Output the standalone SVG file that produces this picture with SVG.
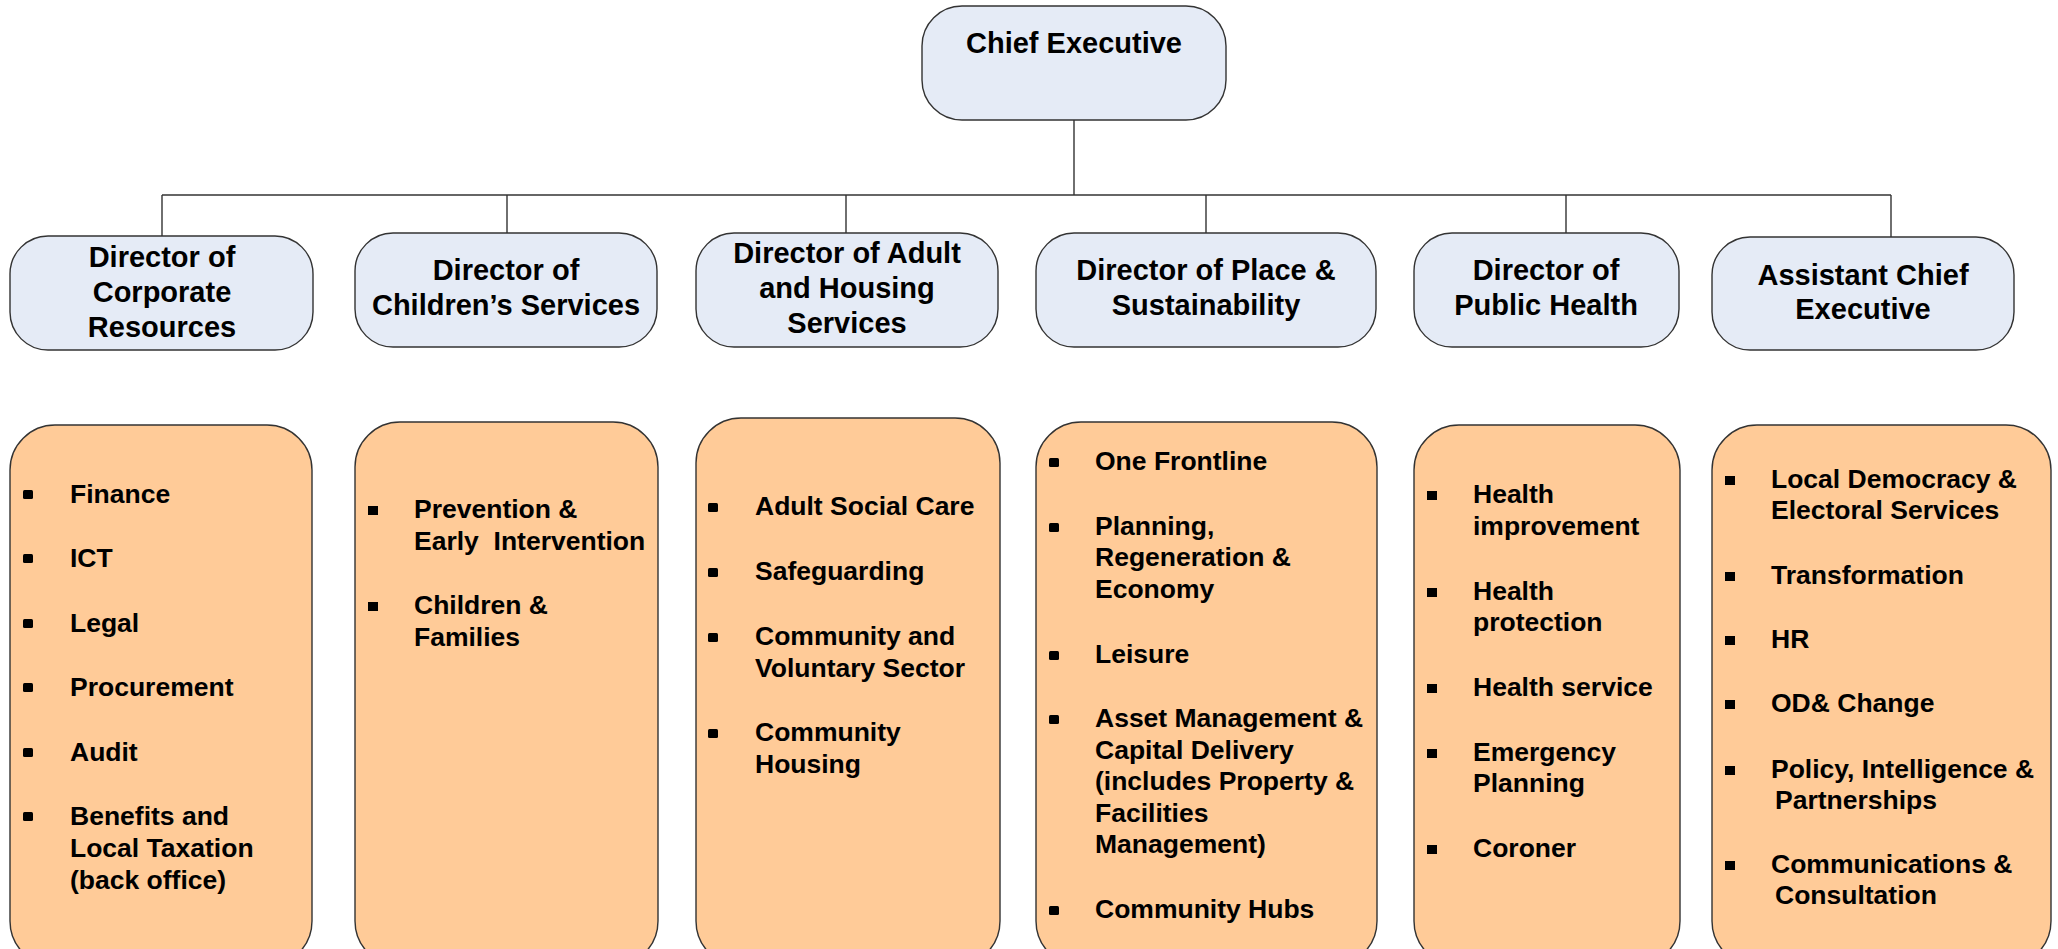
<svg xmlns="http://www.w3.org/2000/svg" width="2058" height="949" viewBox="0 0 2058 949">
<style>
.hd{fill:#E5EBF6;stroke:#333;stroke-width:1.4}
.bx{fill:#FFCB98;stroke:#333;stroke-width:1.4}
.ht{font-family:"Liberation Sans",Arial,sans-serif;font-weight:bold;font-size:29px;fill:#000;text-anchor:middle}
.it{font-family:"Liberation Sans",Arial,sans-serif;font-weight:bold;font-size:26.5px;fill:#000}
.bl{fill:#000}
.cn{stroke:#333;stroke-width:1.4;fill:none}
</style>
<rect width="2058" height="949" fill="#fff"/>
<g id="connectors">
<line class="cn" x1="1074" y1="120" x2="1074" y2="195"/>
<line class="cn" x1="162" y1="195" x2="1891" y2="195"/>
<line class="cn" x1="162" y1="195" x2="162" y2="236"/>
<line class="cn" x1="507" y1="195" x2="507" y2="233"/>
<line class="cn" x1="846" y1="195" x2="846" y2="233"/>
<line class="cn" x1="1206" y1="195" x2="1206" y2="233"/>
<line class="cn" x1="1566" y1="195" x2="1566" y2="233"/>
<line class="cn" x1="1891" y1="195" x2="1891" y2="237"/>
</g>
<g id="chief">
<rect class="hd" x="922" y="6" width="304" height="114" rx="40"/>
<text class="ht" x="1074" y="53">Chief Executive</text>
</g>
<g id="dir-corporate">
<rect class="hd" x="10" y="236" width="303" height="114" rx="38"/>
<text class="ht" x="162" y="267">Director of</text>
<text class="ht" x="162" y="302">Corporate</text>
<text class="ht" x="162" y="337">Resources</text>
</g>
<g id="dir-children">
<rect class="hd" x="355" y="233" width="302" height="114" rx="38"/>
<text class="ht" x="506" y="280">Director of</text>
<text class="ht" x="506" y="315">Children’s Services</text>
</g>
<g id="dir-adult">
<rect class="hd" x="696" y="233" width="302" height="114" rx="38"/>
<text class="ht" x="847" y="263">Director of Adult</text>
<text class="ht" x="847" y="298">and Housing</text>
<text class="ht" x="847" y="333">Services</text>
</g>
<g id="dir-place">
<rect class="hd" x="1036" y="233" width="340" height="114" rx="38"/>
<text class="ht" x="1206" y="280">Director of Place &amp;</text>
<text class="ht" x="1206" y="315">Sustainability</text>
</g>
<g id="dir-health">
<rect class="hd" x="1414" y="233" width="265" height="114" rx="38"/>
<text class="ht" x="1546" y="280">Director of</text>
<text class="ht" x="1546" y="315">Public Health</text>
</g>
<g id="dir-assistant">
<rect class="hd" x="1712" y="237" width="302" height="113" rx="38"/>
<text class="ht" x="1863" y="285">Assistant Chief</text>
<text class="ht" x="1863" y="319">Executive</text>
</g>
<g id="box-corporate">
<rect class="bx" x="10" y="425" width="302" height="541" rx="45"/>
<rect class="bl" x="23" y="490" width="10" height="9" rx="1.5"/>
<text class="it" x="70" y="503">Finance</text>
<rect class="bl" x="23" y="554" width="10" height="9" rx="1.5"/>
<text class="it" x="70" y="567">ICT</text>
<rect class="bl" x="23" y="619" width="10" height="9" rx="1.5"/>
<text class="it" x="70" y="632">Legal</text>
<rect class="bl" x="23" y="683" width="10" height="9" rx="1.5"/>
<text class="it" x="70" y="696">Procurement</text>
<rect class="bl" x="23" y="748" width="10" height="9" rx="1.5"/>
<text class="it" x="70" y="761">Audit</text>
<rect class="bl" x="23" y="812" width="10" height="9" rx="1.5"/>
<text class="it" x="70" y="825">Benefits and</text>
<text class="it" x="70" y="857">Local Taxation</text>
<text class="it" x="70" y="889">(back office)</text>
</g>
<g id="box-children">
<rect class="bx" x="355" y="422" width="303" height="544" rx="45"/>
<rect class="bl" x="368" y="506" width="10" height="9"/>
<text class="it" x="414" y="518">Prevention &amp;</text>
<text class="it" x="414" y="550" xml:space="preserve">Early  Intervention</text>
<rect class="bl" x="368" y="602" width="10" height="9"/>
<text class="it" x="414" y="614">Children &amp;</text>
<text class="it" x="414" y="646">Families</text>
</g>
<g id="box-adult">
<rect class="bx" x="696" y="418" width="304" height="548" rx="45"/>
<rect class="bl" x="708" y="503" width="10" height="9" rx="1.5"/>
<text class="it" x="755" y="515">Adult Social Care</text>
<rect class="bl" x="708" y="568" width="10" height="9" rx="1.5"/>
<text class="it" x="755" y="580">Safeguarding</text>
<rect class="bl" x="708" y="633" width="10" height="9" rx="1.5"/>
<text class="it" x="755" y="645">Community and</text>
<text class="it" x="755" y="677">Voluntary Sector</text>
<rect class="bl" x="708" y="729" width="10" height="9" rx="1.5"/>
<text class="it" x="755" y="741">Community</text>
<text class="it" x="755" y="773">Housing</text>
</g>
<g id="box-place">
<rect class="bx" x="1036" y="422" width="341" height="544" rx="45"/>
<rect class="bl" x="1049" y="458" width="10" height="9" rx="1.5"/>
<text class="it" x="1095" y="470">One Frontline</text>
<rect class="bl" x="1049" y="523" width="10" height="9" rx="1.5"/>
<text class="it" x="1095" y="535">Planning,</text>
<text class="it" x="1095" y="566">Regeneration &amp;</text>
<text class="it" x="1095" y="598">Economy</text>
<rect class="bl" x="1049" y="651" width="10" height="9" rx="1.5"/>
<text class="it" x="1095" y="663">Leisure</text>
<rect class="bl" x="1049" y="715" width="10" height="9" rx="1.5"/>
<text class="it" x="1095" y="727">Asset Management &amp;</text>
<text class="it" x="1095" y="759">Capital Delivery</text>
<text class="it" x="1095" y="790">(includes Property &amp;</text>
<text class="it" x="1095" y="822">Facilities</text>
<text class="it" x="1095" y="853">Management)</text>
<rect class="bl" x="1049" y="906" width="10" height="9" rx="1.5"/>
<text class="it" x="1095" y="918">Community Hubs</text>
</g>
<g id="box-health">
<rect class="bx" x="1414" y="425" width="266" height="541" rx="45"/>
<rect class="bl" x="1427" y="491" width="10" height="9"/>
<text class="it" x="1473" y="503">Health</text>
<text class="it" x="1473" y="535">improvement</text>
<rect class="bl" x="1427" y="588" width="10" height="9"/>
<text class="it" x="1473" y="600">Health</text>
<text class="it" x="1473" y="631">protection</text>
<rect class="bl" x="1427" y="684" width="10" height="9"/>
<text class="it" x="1473" y="696">Health service</text>
<rect class="bl" x="1427" y="749" width="10" height="9"/>
<text class="it" x="1473" y="761">Emergency</text>
<text class="it" x="1473" y="792">Planning</text>
<rect class="bl" x="1427" y="845" width="10" height="9"/>
<text class="it" x="1473" y="857">Coroner</text>
</g>
<g id="box-assistant">
<rect class="bx" x="1712" y="425" width="339" height="541" rx="45"/>
<rect class="bl" x="1725" y="476" width="10" height="9"/>
<text class="it" x="1771" y="488">Local Democracy &amp;</text>
<text class="it" x="1771" y="519">Electoral Services</text>
<rect class="bl" x="1725" y="572" width="10" height="9"/>
<text class="it" x="1771" y="584">Transformation</text>
<rect class="bl" x="1725" y="636" width="10" height="9"/>
<text class="it" x="1771" y="648">HR</text>
<rect class="bl" x="1725" y="700" width="10" height="9"/>
<text class="it" x="1771" y="712">OD&amp; Change</text>
<rect class="bl" x="1725" y="766" width="10" height="9"/>
<text class="it" x="1771" y="778">Policy, Intelligence &amp;</text>
<text class="it" x="1775" y="809">Partnerships</text>
<rect class="bl" x="1725" y="861" width="10" height="9"/>
<text class="it" x="1771" y="873">Communications &amp;</text>
<text class="it" x="1775" y="904">Consultation</text>
</g>
</svg>
